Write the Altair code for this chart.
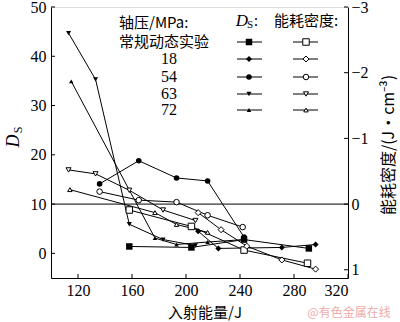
import altair as alt
import pandas as pd

# ---------------- data ----------------
series_names = ["常规动态实验", "18", "54", "63", "72"]
series_shapes = ["square", "diamond", "circle", "triangle-down", "triangle-up"]
series_sizes = [42, 20, 40, 40, 40]

# D_S (left axis)
ds_J = {
    "常规动态实验": [158, 204, 243, 291],
    "18": [209, 224, 271, 296],
    "54": [136, 165, 193, 216, 243],
    "63": [113, 133, 158, 183, 207],
    "72": [115, 177, 193, 216, 243],
}
ds_val = {
    "常规动态实验": [1.4, 1.2, 2.8, 1.0],
    "18": [4.5, 1.0, 1.2, 1.8],
    "54": [14.1, 18.8, 15.3, 14.7, 3.3],
    "63": [44.7, 35.3, 5.9, 2.8, 1.6],
    "72": [34.9, 3.1, 1.8, 2.3, 2.8],
}
# energy dissipation density (right axis)
e_J = {
    "常规动态实验": [158, 204, 243, 290],
    "18": [209, 226, 245, 271, 296],
    "54": [136, 165, 193, 216, 242],
    "63": [113, 133, 158, 183, 207],
    "72": [114, 177, 193, 216],
}
e_val = {
    "常规动态实验": [0.09, 0.34, 0.70, 0.90],
    "18": [0.13, 0.39, 0.64, 0.85, 0.99],
    "54": [-0.19, -0.06, -0.03, 0.17, 0.35],
    "63": [-0.52, -0.46, -0.21, 0.09, 0.25],
    "72": [-0.22, 0.13, 0.31, 0.43],
}

x_ticks = [120, 160, 200, 240, 280, 320]
ds_ticks = [0, 10, 20, 30, 40, 50]
e_ticks = [-3, -2, -1, 0, 1]

# ---------------- frames ----------------
def build(jd, vd):
    rows = []
    for s in series_names:
        for i, (j, v) in enumerate(zip(jd[s], vd[s])):
            rows.append({"s": s, "J": j, "v": v, "o": i})
    return pd.DataFrame(rows)

ds_df = build(ds_J, ds_val)
e_df = build(e_J, e_val)

W, H = 297, 271
SERIF = "Liberation Serif, Noto Sans CJK SC"
CJK = "Noto Sans CJK SC"

xs = alt.Scale(domain=[100, 320], nice=False)
yD = alt.Scale(domain=[-5, 50], nice=False)
yE = alt.Scale(domain=[-3, 1.125], reverse=True, nice=False)
shape_scale = alt.Scale(domain=series_names, range=series_shapes)
size_scale = alt.Scale(domain=series_names, range=series_sizes)

x_axis = alt.Axis(values=x_ticks, ticks=False, grid=False, title=None, labelPadding=4,
                  labelFont=SERIF, labelFontSize=16, labelColor="black", domainColor="black")

# ---- D_S group (left axis) ----
ds_base = alt.Chart(ds_df)
ds_lines = ds_base.mark_line(color="black", strokeWidth=1).encode(
    x=alt.X("J:Q", scale=xs, axis=x_axis),
    y=alt.Y("v:Q", scale=yD, axis=alt.Axis(values=ds_ticks, ticks=False, grid=False, title=None,
                                          labelPadding=5, labelFont=SERIF, labelFontSize=16,
                                          labelColor="black", domainColor="black", orient="left")),
    detail="s:N", order="o:Q")
ds_pts = ds_base.mark_point(filled=True, color="black", opacity=1).encode(
    x=alt.X("J:Q", scale=xs), y=alt.Y("v:Q", scale=yD),
    shape=alt.Shape("s:N", scale=shape_scale, legend=None),
    size=alt.Size("s:N", scale=size_scale, legend=None))
hline = alt.Chart(pd.DataFrame({"v": [10]})).mark_rule(color="black", strokeWidth=1).encode(
    y=alt.Y("v:Q", scale=yD))
left_ticks = alt.Chart(pd.DataFrame({"v": ds_ticks})).mark_rule(color="black").encode(
    y=alt.Y("v:Q", scale=yD), x=alt.value(0), x2=alt.value(4))
bottom_ticks = alt.Chart(pd.DataFrame({"J": x_ticks})).mark_rule(color="black").encode(
    x=alt.X("J:Q", scale=xs), y=alt.value(H - 4), y2=alt.value(H))
groupD = alt.layer(ds_lines, hline, left_ticks, bottom_ticks, ds_pts)

# ---- energy group (right axis) ----
e_base = alt.Chart(e_df)
e_lines = e_base.mark_line(color="black", strokeWidth=1).encode(
    x=alt.X("J:Q", scale=xs),
    y=alt.Y("v:Q", scale=yE, axis=alt.Axis(values=e_ticks, ticks=False, grid=False, title=None,
                                          format="d", labelPadding=3, labelFont=SERIF, labelFontSize=16,
                                          labelColor="black", domainColor="black", orient="right")),
    detail="s:N", order="o:Q")
e_pts = e_base.mark_point(filled=True, fill="white", stroke="black", strokeWidth=1, opacity=1).encode(
    x=alt.X("J:Q", scale=xs), y=alt.Y("v:Q", scale=yE),
    shape=alt.Shape("s:N", scale=shape_scale, legend=None),
    size=alt.Size("s:N", scale=size_scale, legend=None))
right_ticks = alt.Chart(pd.DataFrame({"v": e_ticks})).mark_rule(color="black").encode(
    y=alt.Y("v:Q", scale=yE), x=alt.value(W - 4), x2=alt.value(W))
groupE = alt.layer(e_lines, right_ticks, e_pts)

# ---- texts ----
def txt(t, x, y, size=15, font=CJK, align="center", angle=0, style="normal", color="black", baseline="middle"):
    return alt.Chart(pd.DataFrame({"t": [t]})).mark_text(
        fontSize=size, font=font, align=align, angle=angle, fontStyle=style, color=color,
        baseline=baseline).encode(x=alt.value(x), y=alt.value(y), text="t:N")

texts = [
    txt("轴压/MPa:", 68, 16, align="left"),
    txt("能耗密度:", 223, 14, align="left"),
    txt("D", 191, 14, size=17, font=SERIF, style="italic"),
    txt("S", 199, 18, size=11, font=SERIF),
    txt(":", 205, 14, size=16, font=SERIF),
    txt("入射能量/J", 154, 306, size=15),
    txt("能耗密度/(J·cm⁻³)", 338, 138, size=16, angle=270),
    txt("D", -37, 134, size=18, font=SERIF, style="italic", angle=270),
    txt("S", -33, 123, size=12, font=SERIF, angle=270),
    txt("@有色金属在线", 298, 306, size=12, color="#eeaaaa"),
]

leg_rows = [35, 52, 70, 87, 103]
leg = []
for i, name in enumerate(series_names):
    yrow = leg_rows[i]
    if i == 0:
        leg.append(txt(name, 68, yrow, align="left"))
    else:
        leg.append(txt(name, 118, yrow, size=16, font=SERIF))
    one = pd.DataFrame({"s": [name]})
    leg.append(alt.Chart(one).mark_rule(color="black").encode(
        x=alt.value(186), x2=alt.value(211), y=alt.value(yrow)))
    leg.append(alt.Chart(one).mark_point(filled=True, color="black", opacity=1).encode(
        x=alt.value(198), y=alt.value(yrow),
        shape=alt.Shape("s:N", scale=shape_scale, legend=None),
        size=alt.Size("s:N", scale=size_scale, legend=None)))
    leg.append(alt.Chart(one).mark_rule(color="black").encode(
        x=alt.value(242), x2=alt.value(267), y=alt.value(yrow)))
    leg.append(alt.Chart(one).mark_point(filled=True, fill="white", stroke="black", strokeWidth=1, opacity=1).encode(
        x=alt.value(255), y=alt.value(yrow),
        shape=alt.Shape("s:N", scale=shape_scale, legend=None),
        size=alt.Size("s:N", scale=size_scale, legend=None)))

chart = alt.layer(groupD, groupE, *texts, *leg).resolve_scale(y="independent").properties(
    width=W, height=H,
    padding={"left": 51, "top": 7, "right": 52, "bottom": 44},
    autosize=alt.AutoSizeParams(type="none"),
).configure_view(stroke="black", strokeWidth=1).configure(background="white")

chart.save("out.html", embed_options={"renderer": "svg", "actions": False})
